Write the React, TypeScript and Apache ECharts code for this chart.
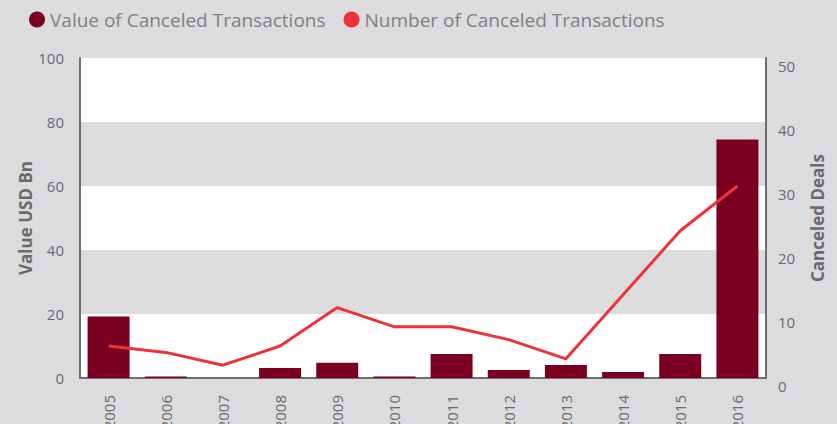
import React, { useEffect, useRef } from "react";
import * as echarts from "echarts";

const years = ["2005", "2006", "2007", "2008", "2009", "2010", "2011", "2012", "2013", "2014", "2015", "2016"];
const valueUsdBn = [19.2, 0.5, 0, 3.1, 4.8, 0.5, 7.5, 2.5, 4.1, 1.9, 7.5, 74.5];
const canceledDeals = [5, 4, 2, 5, 11, 8, 8, 6, 3, 13, 23, 30];
const leftTicks = { min: 0, max: 100, interval: 20 };
const rightTicks = { min: 0, max: 50, interval: 10 };

const FONT = "Open Sans";
const GRAY_BG = "#dcdcde";

export default function App() {
  const ref = useRef<HTMLDivElement>(null);
  useEffect(() => {
    if (!ref.current) return;
    const chart = echarts.init(ref.current, undefined, { renderer: "svg" });
    chart.setOption({
      animation: false,
      backgroundColor: GRAY_BG,
      textStyle: { fontFamily: FONT },
      legend: {
        left: 24,
        top: 5,
        icon: "circle",
        itemWidth: 16,
        itemHeight: 16,
        itemGap: 18,
        textStyle: { fontFamily: FONT, fontSize: 19, color: "#808082" },
        data: ["Value of Canceled Transactions", "Number of Canceled Transactions"],
      },
      grid: { left: 80, right: 71, top: 58, bottom: 46, containLabel: false, outerBoundsMode: "none" },
      xAxis: {
        type: "category",
        data: years,
        axisLine: { show: true, lineStyle: { color: "#6e6e70", width: 2 } },
        axisTick: { show: false },
        axisLabel: { rotate: 90, fontSize: 15, color: "#6a6a6c", margin: 17, fontFamily: FONT },
      },
      yAxis: [
        {
          type: "value",
          ...leftTicks,
          name: "Value USD Bn",
          nameLocation: "middle",
          nameGap: 46,
          nameMoveOverlap: false,
          nameTextStyle: { fontSize: 17, fontWeight: "bold", color: "#6a6a6c", fontFamily: FONT },
          axisLine: { show: true, lineStyle: { color: "#6e6e70", width: 2 } },
          axisTick: { show: false },
          axisLabel: { fontSize: 15, color: "#6a6a6c", margin: 16, fontFamily: FONT },
          splitLine: { show: false },
          splitArea: { show: true, areaStyle: { color: ["#ffffff", GRAY_BG] } },
        },
        {
          type: "value",
          ...rightTicks,
          name: "Canceled Deals",
          nameLocation: "middle",
          nameRotate: 90,
          nameGap: 43,
          nameMoveOverlap: false,
          nameTextStyle: { fontSize: 17, fontWeight: "bold", color: "#6a6a6c", fontFamily: FONT },
          axisLine: { show: true, lineStyle: { color: "#6e6e70", width: 2 } },
          axisTick: { show: false },
          axisLabel: { fontSize: 15, color: "#6a6a6c", margin: 12, fontFamily: FONT, verticalAlign: "top" },
          splitLine: { show: false },
          splitArea: { show: false },
        },
      ],
      series: [
        {
          name: "Value of Canceled Transactions",
          type: "bar",
          data: valueUsdBn,
          barWidth: 42,
          itemStyle: { color: "#7a0021" },
          yAxisIndex: 0,
        },
        {
          name: "Number of Canceled Transactions",
          type: "line",
          data: canceledDeals,
          yAxisIndex: 1,
          showSymbol: false,
          symbol: "circle",
          lineStyle: { color: "#ee3338", width: 3 },
          itemStyle: { color: "#ee3338" },
        },
      ],
    });
    return () => chart.dispose();
  }, []);
  return (
    <div
      ref={ref}
      style={{ position: "absolute", left: 0, top: 0, width: 837, height: 424 }}
    />
  );
}
